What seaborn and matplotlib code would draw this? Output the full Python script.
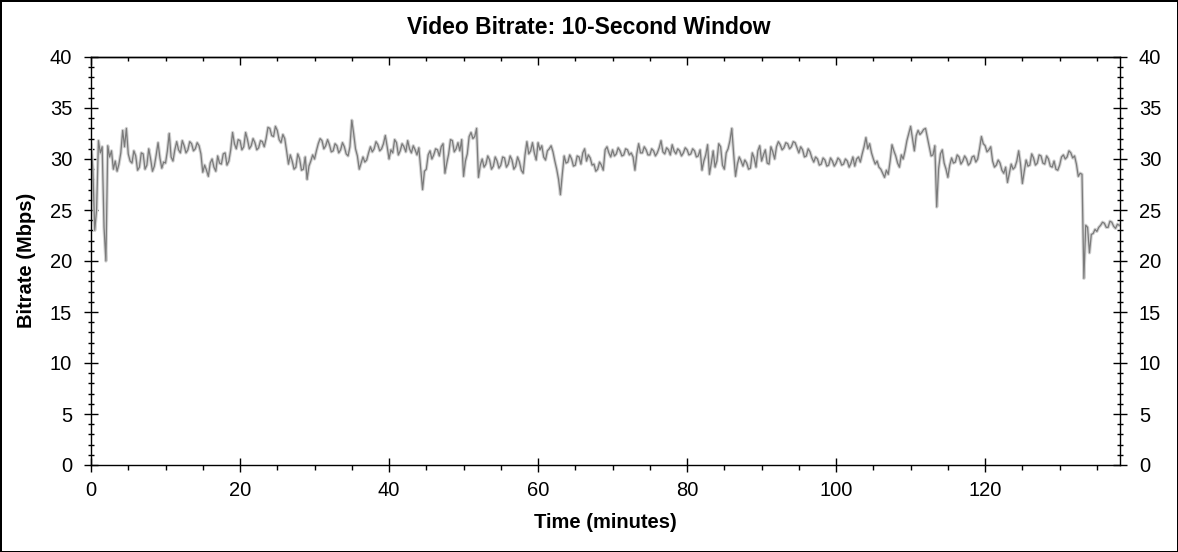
import numpy as np
import pandas as pd
import matplotlib
matplotlib.use("Agg")
import matplotlib.pyplot as plt
import seaborn as sns
from matplotlib.ticker import MultipleLocator

# ---- data ----
title = "Video Bitrate: 10-Second Window"
x_label = "Time (minutes)"
y_label = "Bitrate (Mbps)"
x_ticks = [0, 20, 40, 60, 80, 100, 120]
y_ticks = [0, 5, 10, 15, 20, 25, 30, 35, 40]

time_start_min = 0.0
time_step_min = 0.25
bitrate_mbps = [
    # 0 - 4.75 min
    31.5, 29.0, 23.0, 25.0, 31.8, 30.6, 31.2, 23.3, 20.0, 31.3,
    30.2, 30.8, 29.0, 29.8, 28.8, 29.5, 30.6, 32.8, 31.2, 33.0,
    # 5 - 9.75
    30.5, 29.8, 29.6, 30.8, 30.3, 28.9, 29.2, 30.6, 30.5, 29.0,
    29.4, 31.0, 30.0, 28.8, 29.3, 30.4, 31.6, 30.1, 29.1, 29.7,
    # 10 - 14.75
    29.6, 30.8, 32.5, 30.2, 29.8, 30.9, 31.7, 30.9, 30.6, 31.8,
    31.3, 30.6, 30.9, 31.7, 31.5, 30.8, 31.0, 31.6, 31.3, 30.5,
    # 15 - 19.75
    28.7, 29.4, 28.9, 28.3, 29.6, 30.0, 29.2, 28.8, 30.3, 29.6,
    29.5, 30.5, 30.6, 29.4, 29.8, 30.9, 32.6, 31.5, 31.0, 31.9,
    # 20 - 24.75
    31.8, 30.9, 31.2, 32.6, 31.9, 31.0, 31.3, 32.0, 31.6, 30.9,
    31.1, 31.8, 31.7, 31.2, 32.0, 33.1, 33.0, 32.3, 32.2, 33.2,
    # 25 - 29.75
    32.8, 31.9, 31.6, 32.4, 32.0, 30.8, 29.5, 30.4, 29.8, 29.0,
    29.2, 30.5, 30.0, 28.9, 29.0, 30.2, 28.0, 29.3, 29.8, 30.4,
    # 30 - 34.75
    30.0, 30.8, 31.5, 32.0, 31.8, 31.0, 31.3, 31.9, 31.4, 30.7,
    30.8, 31.5, 31.3, 30.6, 30.9, 31.6, 31.2, 30.5, 30.3, 31.2,
    # 35 - 39.75
    33.8, 32.5, 31.0, 30.3, 29.0, 29.6, 30.2, 29.7, 29.9, 30.6,
    31.2, 30.7, 31.0, 31.7, 31.4, 30.8, 31.0, 31.5, 32.3, 31.2,
    # 40 - 44.75
    30.0, 30.9, 30.6, 31.9, 31.6, 30.4, 30.8, 31.5, 31.2, 30.7,
    31.8, 31.0, 30.6, 31.3, 30.9, 30.4, 31.1, 29.0, 27.0, 28.8,
    # 45 - 49.75
    29.0, 30.4, 30.8, 30.0, 30.4, 31.0, 30.9, 30.3, 31.2, 31.5,
    28.6, 29.6, 30.5, 31.9, 31.8, 30.7, 31.0, 31.6, 30.8, 31.9,
    # 50 - 54.75
    28.3, 29.8, 30.5, 32.2, 32.6, 32.0, 32.2, 33.0, 28.2, 29.4,
    30.0, 29.2, 29.5, 30.3, 29.9, 29.0, 29.3, 30.2, 29.8, 29.1,
    # 55 - 59.75
    29.4, 30.2, 30.1, 29.2, 29.5, 30.3, 29.9, 29.0, 29.3, 30.2,
    29.7, 28.9, 28.6, 30.4, 31.7, 30.5, 30.8, 31.6, 30.6, 29.9,
    # 60 - 64.75
    31.6, 30.9, 31.3, 30.2, 29.9, 30.8, 31.0, 31.3, 30.7, 29.8,
    29.0, 28.0, 26.5, 28.5, 30.3, 29.6, 29.7, 30.4, 30.0, 29.3,
    # 65 - 69.75
    29.4, 30.3, 30.2, 29.5, 30.6, 31.0, 29.8, 30.4, 30.1, 29.4,
    29.5, 28.8, 29.0, 29.7, 29.4, 28.9, 30.9, 31.2, 30.6, 30.2,
    # 70 - 74.75
    30.9, 30.3, 30.5, 31.1, 30.8, 30.3, 30.4, 31.0, 30.9, 30.4,
    30.6, 30.2, 28.9, 30.5, 31.5, 30.6, 30.6, 31.2, 30.9, 30.4,
    # 75 - 79.75
    30.4, 31.0, 30.8, 30.3, 30.6, 31.1, 31.8, 30.7, 30.5, 31.1,
    30.9, 30.4, 31.4, 30.8, 30.5, 31.0, 30.8, 30.3, 30.6, 31.1,
    # 80 - 84.75
    30.9, 30.4, 30.5, 31.0, 30.8, 30.2, 30.3, 30.9, 28.9, 29.8,
    30.4, 31.4, 28.5, 29.6, 30.8, 29.2, 29.8, 31.5, 31.2, 29.4,
    # 85 - 89.75
    29.0, 30.6, 31.0, 31.8, 33.0, 30.5, 28.3, 29.5, 30.2, 29.8,
    29.3, 29.9, 29.6, 29.0, 29.1, 30.6, 30.1, 29.2, 30.8, 31.3,
    # 90 - 94.75
    29.8, 30.4, 30.9, 29.6, 29.5, 31.2, 30.7, 30.0, 31.2, 31.7,
    31.4, 30.9, 31.1, 31.6, 31.5, 31.0, 31.2, 31.7, 31.6, 31.1,
    # 95 - 99.75
    30.6, 31.2, 30.9, 30.2, 30.3, 31.0, 30.7, 30.1, 29.7, 30.2,
    30.0, 29.4, 29.5, 30.1, 29.9, 29.3, 29.4, 30.1, 29.8, 29.3,
    # 100 - 104.75
    29.6, 30.1, 29.9, 29.4, 29.5, 30.0, 29.8, 29.2, 29.6, 30.2,
    29.3, 30.0, 30.2, 29.7, 30.5, 31.2, 32.1, 31.0, 31.5, 30.6,
    # 105 - 109.75
    30.0, 29.5, 29.8, 29.2, 29.0, 28.6, 28.2, 28.9, 28.5, 29.8,
    31.4, 30.8, 30.3, 29.6, 29.2, 30.4, 30.0, 30.8, 31.8, 32.5,
    # 110 - 114.75
    33.2, 32.0, 30.8, 32.3, 32.8, 32.4, 32.6, 32.9, 33.0, 32.1,
    31.2, 30.3, 30.4, 31.3, 25.3, 29.0, 30.5, 30.9, 29.6, 29.0,
    # 115 - 119.75
    28.2, 29.4, 30.1, 29.6, 29.7, 30.4, 30.2, 29.5, 29.8, 30.3,
    30.0, 29.4, 29.6, 30.2, 30.3, 29.7, 30.0, 31.0, 32.2, 31.5,
    # 120 - 124.75
    31.3, 30.7, 30.9, 31.2, 29.8, 29.2, 29.4, 29.9, 29.6, 28.9,
    28.6, 29.2, 27.7, 28.6, 29.5, 29.0, 29.2, 29.8, 30.8, 29.5,
    # 125 - 129.75
    27.6, 28.8, 29.9, 29.3, 29.4, 30.5, 30.1, 29.4, 29.6, 30.4,
    30.3, 29.6, 29.5, 30.3, 30.0, 29.3, 29.2, 29.8, 29.0, 28.9,
    # 130 - 134.75
    29.4, 30.2, 30.4, 30.0, 30.2, 30.8, 30.6, 30.1, 30.3, 29.5,
    28.3, 28.6, 28.5, 18.3, 23.5, 23.3, 20.8, 22.6, 22.7, 23.1,
    # 135 - 138
    22.9, 23.3, 23.5, 23.8, 23.7, 23.3, 23.3, 23.9, 23.8, 23.4,
    23.2, 23.6, 23.5,
]

# ---- style ----
sns.set_style("ticks")
plt.rcParams["font.family"] = ["Liberation Sans", "DejaVu Sans"]

time_min = time_start_min + time_step_min * np.arange(len(bitrate_mbps))
df = pd.DataFrame({"time": time_min, "bitrate": bitrate_mbps})

W, H = 1178, 552
fig = plt.figure(figsize=(W / 100, H / 100), dpi=100)
fig.patch.set_facecolor("white")
fig.patch.set_edgecolor("black")
fig.patch.set_linewidth(2)

ax = fig.add_axes([91 / W, 87 / H, 1029 / W, 408 / H])
ax.set_facecolor("white")

sns.lineplot(data=df, x="time", y="bitrate", ax=ax, color="#d2d2d2",
             linewidth=2.4, estimator=None, legend=False)
sns.lineplot(data=df, x="time", y="bitrate", ax=ax, color="#7b7b7b",
             linewidth=0.9, estimator=None, legend=False)

ax.set_xlim(0, 138.1)
ax.set_ylim(0, 40)
ax.set_xticks(x_ticks)
ax.set_yticks(y_ticks)
ax.xaxis.set_minor_locator(MultipleLocator(5))
ax.yaxis.set_minor_locator(MultipleLocator(1))
ax.set_xlabel("")
ax.set_ylabel("")

for s in ax.spines.values():
    s.set_visible(True)
    s.set_color("black")
    s.set_linewidth(1.0)

ax.tick_params(axis="y", which="major", direction="inout", length=10, width=1,
               color="black", labelcolor="black", labelsize=14.5, pad=8.5,
               left=True, right=True, labelleft=True, labelright=True)
ax.tick_params(axis="y", which="minor", direction="inout", length=4.3, width=1,
               color="black", left=True, right=True)
ax.tick_params(axis="x", which="major", direction="inout", length=9.5, width=1,
               color="black", labelcolor="black", labelsize=14.5, pad=7,
               bottom=True, top=False)
ax.tick_params(axis="x", which="minor", direction="out", length=3.6, width=1,
               color="black", bottom=True, top=False)

sec = ax.secondary_xaxis("top")
sec.set_xticks(x_ticks)
sec.xaxis.set_minor_locator(MultipleLocator(5))
sec.tick_params(axis="x", which="major", direction="in", length=5.8, width=1,
                color="black", labeltop=False)
sec.tick_params(axis="x", which="minor", direction="in", length=3, width=1,
                color="black")
sec.spines["top"].set_linewidth(1.0)
sec.spines["top"].set_color("black")

fig.text(589 / W, 1 - 27 / H, title, ha="center", va="center",
         fontsize=16.5, fontweight="bold", color="black")
fig.text(605 / W, 1 - 523 / H, x_label, ha="center", va="center",
         fontsize=14.5, fontweight="bold", color="black")
fig.text(27 / W, 1 - 260 / H, y_label, ha="center", va="center",
         rotation=90, fontsize=14.5, fontweight="bold", color="black")

fig.savefig("out.png", dpi=100, facecolor=fig.get_facecolor(),
            edgecolor=fig.get_edgecolor())
